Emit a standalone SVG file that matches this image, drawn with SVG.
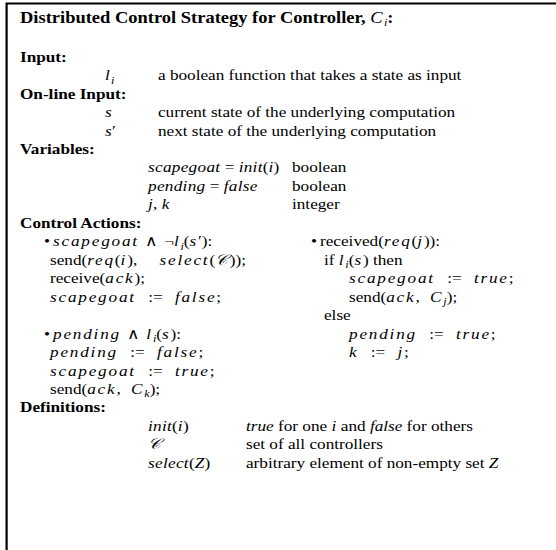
<svg xmlns="http://www.w3.org/2000/svg" width="556" height="550" viewBox="0 0 556 550">
<style>
text{font-family:"Liberation Serif","Times New Roman",serif;font-size:17.2px;fill:#000}
.b{font-weight:bold}
.h{font-weight:bold;font-size:18.5px}
.m{font-style:italic;letter-spacing:0.3px}
.c{font-style:italic;letter-spacing:1.8px}
.s{font-style:italic;font-size:12px}
.g{letter-spacing:0}
</style>
<rect width="556" height="550" fill="#fff"/>
<g id="frame" fill="none" stroke="#000">
<path d="M6.6 550V3.5H556" stroke-width="2.2"/>
</g>
<g id="content" transform="scale(1,0.877)">
<g id="title">
<text x="20" y="26.2"><tspan class="h">Distributed Control Strategy for Controller, </tspan><tspan class="m" font-size="18.5">C</tspan><tspan class="s" dy="4" dx="1">i</tspan><tspan class="h" dy="-4">:</tspan></text>
</g>
<g id="input">
<text class="b" x="20" y="70.5">Input:</text>
<text x="105" y="91.5"><tspan class="m">l</tspan><tspan class="s" dy="4" dx="1">i</tspan></text>
<text x="158" y="91.5">a boolean function that takes a state as input</text>
</g>
<g id="online-input">
<text class="b" x="20" y="112.5">On-line Input:</text>
<text class="m" x="105" y="133.6">s</text>
<text x="158" y="133.6">current state of the underlying computation</text>
<text x="105" y="154.6"><tspan class="m">s</tspan>′</text>
<text x="158" y="154.6">next state of the underlying computation</text>
</g>
<g id="variables">
<text class="b" x="20" y="175.7">Variables:</text>
<text x="148" y="196.7"><tspan class="m">scapegoat</tspan> = <tspan class="m">init</tspan>(<tspan class="m">i</tspan>)</text>
<text x="292" y="196.7">boolean</text>
<text x="148" y="217.7"><tspan class="m">pending</tspan> = <tspan class="m">false</tspan></text>
<text x="292" y="217.7">boolean</text>
<text x="148" y="238.8"><tspan class="m">j</tspan>, <tspan class="m">k</tspan></text>
<text x="292" y="238.8">integer</text>
</g>
<g id="control-actions">
<text class="b" x="20" y="259.8">Control Actions:</text>
<g id="action-scapegoat">
<text x="44" y="280.9">•<tspan class="c" dx="3">scapegoat</tspan><tspan dx="2"> ∧ </tspan><tspan dx="2">¬</tspan><tspan class="c">l</tspan><tspan class="s" dy="4">i</tspan><tspan dy="-4">(</tspan><tspan class="c">s</tspan>′):</text>
<text x="50" y="301.9">send(<tspan class="c">req</tspan>(<tspan class="c">i</tspan>),<tspan dx="18"> </tspan><tspan class="c">select</tspan>(<tspan class="c">𝒞</tspan>));</text>
<text x="50" y="323">receive(<tspan class="c">ack</tspan>);</text>
<text x="50" y="344"><tspan class="c">scapegoat</tspan><tspan class="g" dx="8"> := </tspan><tspan class="c" dx="8">false</tspan>;</text>
</g>
<g id="action-pending">
<text x="44" y="386.1">•<tspan class="c" dx="3">pending</tspan><tspan dx="2"> ∧ </tspan><tspan class="c" dx="2">l</tspan><tspan class="s" dy="4">i</tspan><tspan dy="-4">(</tspan><tspan class="c">s</tspan>):</text>
<text x="50" y="407.1"><tspan class="c">pending</tspan><tspan class="g" dx="8"> := </tspan><tspan class="c" dx="8">false</tspan>;</text>
<text x="50" y="428.2"><tspan class="c">scapegoat</tspan><tspan class="g" dx="8"> := </tspan><tspan class="c" dx="8">true</tspan>;</text>
<text x="50" y="449.2">send(<tspan class="c">ack</tspan>,<tspan dx="6"> </tspan><tspan class="c">C</tspan><tspan class="s" dy="4">k</tspan><tspan dy="-4">);</tspan></text>
</g>
<g id="action-received">
<text x="311" y="280.9">•<tspan dx="3">received(</tspan><tspan class="c">req</tspan>(<tspan class="c">j</tspan>)):</text>
<text x="324" y="301.9">if <tspan class="c">l</tspan><tspan class="s" dy="4">i</tspan><tspan dy="-4">(</tspan><tspan class="c">s</tspan>) then</text>
<text x="349" y="323"><tspan class="c">scapegoat</tspan><tspan class="g" dx="8"> := </tspan><tspan class="c" dx="8">true</tspan>;</text>
<text x="349" y="344">send(<tspan class="c">ack</tspan>,<tspan dx="6"> </tspan><tspan class="c">C</tspan><tspan class="s" dy="4">j</tspan><tspan dy="-4">);</tspan></text>
<text x="324" y="365.1">else</text>
<text x="349" y="386.1"><tspan class="c">pending</tspan><tspan class="g" dx="8"> := </tspan><tspan class="c" dx="8">true</tspan>;</text>
<text x="349" y="407.1"><tspan class="c">k</tspan><tspan class="g" dx="8"> := </tspan><tspan class="c" dx="8">j</tspan>;</text>
</g>
</g>
<g id="definitions">
<text class="b" x="20" y="470.2">Definitions:</text>
<text x="148" y="491.3"><tspan class="m">init</tspan>(<tspan class="m">i</tspan>)</text>
<text x="246" y="491.3"><tspan font-style="italic">true</tspan> for one <tspan class="m">i</tspan> and <tspan font-style="italic">false</tspan> for others</text>
<text class="m" x="148" y="512.3">𝒞</text>
<text x="246" y="512.3">set of all controllers</text>
<text x="148" y="533.4"><tspan class="m">select</tspan>(<tspan class="m">Z</tspan>)</text>
<text x="246" y="533.4">arbitrary element of non-empty set <tspan class="m">Z</tspan></text>
</g>
</g>
</svg>
